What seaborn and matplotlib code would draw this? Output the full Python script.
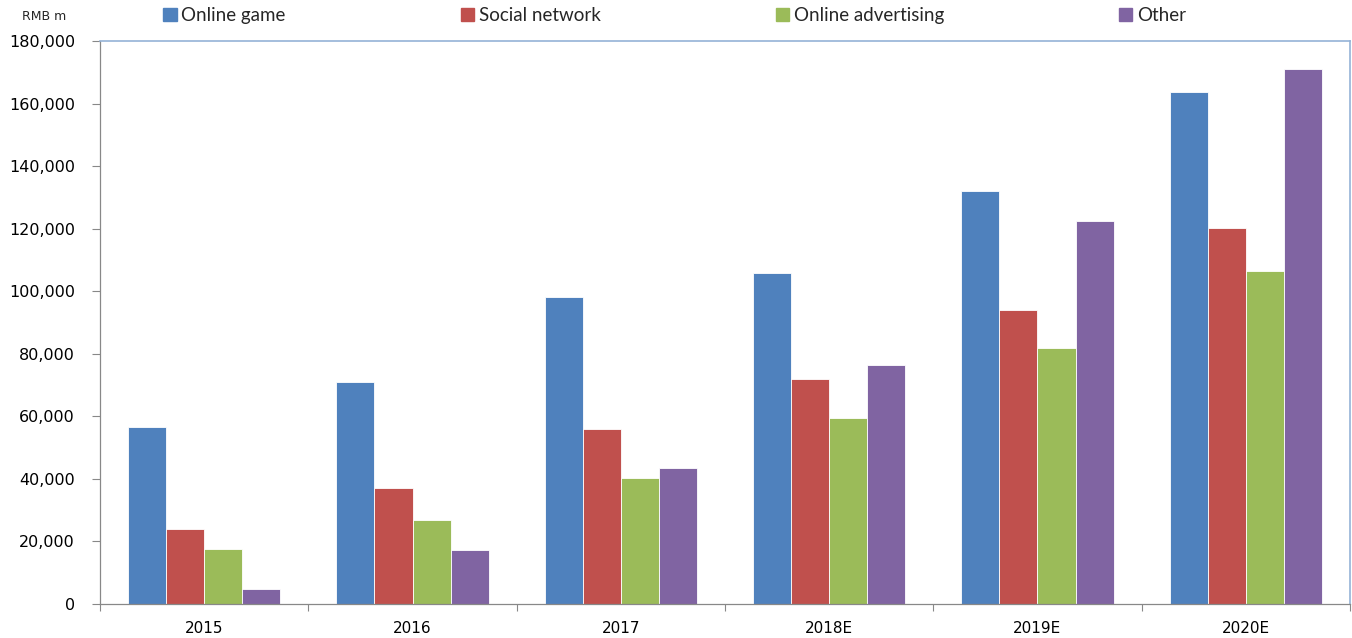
import numpy as np
import pandas as pd
import matplotlib
matplotlib.use("Agg")
import matplotlib.pyplot as plt
import seaborn as sns
from matplotlib.ticker import FuncFormatter, FixedLocator

years = ["2015", "2016", "2017", "2018E", "2019E", "2020E"]
series = ["Online game", "Social network", "Online advertising", "Other"]
online_game = [56600, 71000, 98000, 105700, 132000, 163700]
social_network = [24000, 37100, 56000, 72000, 93900, 120100]
online_advertising = [17500, 26900, 40400, 59600, 82000, 106400]
other = [4700, 17200, 43500, 76300, 122300, 171000]
colors = ["#4F81BD", "#C0504D", "#9BBB59", "#8064A2"]

df = pd.DataFrame({
    "year": years * 4,
    "series": sum([[s] * len(years) for s in series], []),
    "value": online_game + social_network + online_advertising + other,
})

sns.set_theme(style="white")
plt.rcParams["font.family"] = ["DejaVu Sans"]

fig = plt.figure(figsize=(13.52, 6.38), dpi=100)
ax = fig.add_axes([100 / 1352, 34 / 638, 1250 / 1352, 563 / 638])

sns.barplot(data=df, x="year", y="value", hue="series", order=years,
            hue_order=series, palette=colors, width=0.73, ax=ax,
            edgecolor="white", linewidth=0.6, saturation=1, errorbar=None)

ax.set_ylim(0, 180000)
ax.set_xlim(-0.5, 5.5)
ax.set_yticks(np.arange(0, 180001, 20000))
ax.yaxis.set_major_formatter(FuncFormatter(lambda v, p: f"{int(v):,}"))
ax.set_xlabel("")
ax.set_ylabel("")
ax.tick_params(axis="y", labelsize=11.5, length=6, width=0.8, color="#888888",
               direction="out", left=True, pad=12, labelcolor="black")
ax.tick_params(axis="x", which="major", labelsize=11, length=0, pad=12, labelcolor="black")
ax.xaxis.set_minor_locator(FixedLocator(np.arange(-0.5, 6.0, 1.0)))
ax.tick_params(axis="x", which="minor", length=5, width=0.8, color="#888888",
               direction="out", bottom=True)

for side in ["left", "bottom"]:
    ax.spines[side].set_color("#888888")
    ax.spines[side].set_linewidth(0.9)
for side in ["top", "right"]:
    ax.spines[side].set_color("#95B3D7")
    ax.spines[side].set_linewidth(1.2)

ax.get_legend().remove()
handles = [plt.Rectangle((0, 0), 1, 1, color=c) for c in colors]
fig.legend(handles, series, loc="upper left", bbox_to_anchor=(154 / 1352, 1.0 + 2 / 638),
           ncol=4, frameon=False, handlelength=0.7,
           handleheight=0.7, handletextpad=0.25, columnspacing=9.35,
           borderaxespad=0.1, prop={"family": "Lato", "size": 13.5})

fig.text(22 / 1352, 1 - 16 / 638, "RMB m", fontsize=9, va="center", ha="left")

fig.savefig("out.png", dpi=100)
